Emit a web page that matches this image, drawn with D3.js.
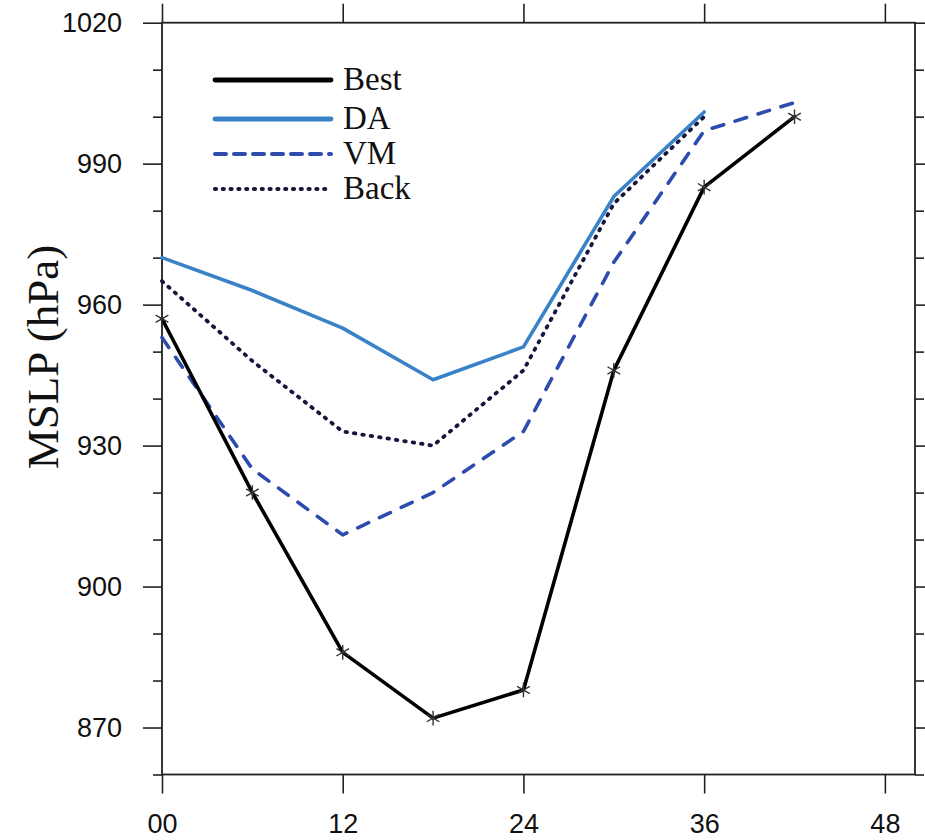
<!DOCTYPE html>
<html>
<head>
<meta charset="utf-8">
<script src="https://cdn.jsdelivr.net/npm/d3@7"></script>
<style>
  html, body { margin: 0; padding: 0; background: #fff; }
  svg { display: block; }
</style>
</head>
<body>
<svg id="chart" width="925" height="840"></svg>
<script>
// Forecast hour (x) and minimum sea-level pressure in hPa (y)
const hours = [0, 6, 12, 18, 24, 30, 36, 42];
const bestMSLP = [957, 920, 886, 872, 878, 946, 985, 1000];
const daMSLP   = [970, 963, 955, 944, 951, 983, 1001];
const vmMSLP   = [953, 925, 911, 920, 933, 969, 997, 1003];
const backMSLP = [965, 948, 933, 930, 946, 981.5, 1000];

const xMajorTicks = [0, 12, 24, 36, 48];
const yMajorTicks = [870, 900, 930, 960, 990, 1020];
const yMinorTicks = [860, 880, 890, 910, 920, 940, 950, 970, 980, 1000, 1010];

const seriesNames = ["Best", "DA", "VM", "Back"];

const svg = d3.select("#chart");
const plotLeft = 162, plotRight = 915, plotTop = 22.7, plotBottom = 774.5;

const x = d3.scaleLinear().domain([0, 50]).range([plotLeft, plotRight]);
const y = d3.scaleLinear().domain([860, 1020]).range([plotBottom, plotTop]);

const axisColor = "#222";
const tickFont = "'Liberation Sans', Arial, Helvetica, sans-serif";
const serif = "'Liberation Serif', 'Times New Roman', Times, serif";

function styleAxis(g) {
  g.select(".domain").remove();
  g.selectAll(".tick line").attr("stroke", axisColor).attr("stroke-width", 1.6);
  g.selectAll(".tick text").attr("fill", "#111").style("font-family", tickFont).style("font-size", "27px");
}

// Major and minor ticks, all pointing outward
svg.append("g").attr("transform", `translate(${plotLeft},0)`)
  .call(d3.axisLeft(y).tickValues(yMajorTicks).tickSize(19).tickPadding(21).tickFormat(d3.format("d")))
  .call(styleAxis);
svg.append("g").attr("transform", `translate(${plotLeft},0)`)
  .call(d3.axisLeft(y).tickValues(yMinorTicks).tickSize(9).tickFormat(""))
  .call(styleAxis);
svg.append("g").attr("transform", `translate(${plotRight},0)`)
  .call(d3.axisRight(y).tickValues(yMajorTicks).tickSize(19).tickFormat(""))
  .call(styleAxis);
svg.append("g").attr("transform", `translate(${plotRight},0)`)
  .call(d3.axisRight(y).tickValues(yMinorTicks).tickSize(9).tickFormat(""))
  .call(styleAxis);
svg.append("g").attr("transform", `translate(0,${plotBottom})`)
  .call(d3.axisBottom(x).tickValues(xMajorTicks).tickSize(19).tickPadding(20).tickFormat(d3.format("02d")))
  .call(styleAxis);
svg.append("g").attr("transform", `translate(0,${plotTop})`)
  .call(d3.axisTop(x).tickValues(xMajorTicks).tickSize(19).tickFormat(""))
  .call(styleAxis);

// Plot frame
svg.append("rect")
  .attr("x", plotLeft).attr("y", plotTop)
  .attr("width", plotRight - plotLeft).attr("height", plotBottom - plotTop)
  .attr("fill", "none").attr("stroke", axisColor).attr("stroke-width", 1.8);

// Y axis title
svg.append("text")
  .attr("transform", `translate(58,357) rotate(-90)`)
  .attr("text-anchor", "middle")
  .style("font-family", serif)
  .style("font-size", "45px")
  .attr("fill", "#111")
  .text("MSLP (hPa)");

const styles = {
  Best: { color: "#000000", width: 3.6, dash: null },
  DA:   { color: "#3a82c8", width: 3.6, dash: null },
  VM:   { color: "#2d4cae", width: 3.6, dash: "12,12" },
  Back: { color: "#15153d", width: 3.8, dash: "1.5,7" }
};
const legendStyles = {
  Best: { width: 4.8, dash: null },
  DA:   { width: 4.8, dash: null },
  VM:   { width: 4.0, dash: "11,8" },
  Back: { width: 4.2, dash: "1,6.8" }
};

const seriesData = {
  Best: bestMSLP, DA: daMSLP, VM: vmMSLP, Back: backMSLP
};

const line = d3.line().x((d, i) => x(hours[i])).y(d => y(d));

// Draw back-to-front so Best is on top
["Back", "VM", "DA", "Best"].forEach(name => {
  const s = styles[name];
  svg.append("path")
    .datum(seriesData[name])
    .attr("d", line)
    .attr("fill", "none")
    .attr("stroke", s.color)
    .attr("stroke-width", s.width)
    .attr("stroke-linejoin", "round")
    .attr("stroke-linecap", "round")
    .attr("stroke-dasharray", s.dash);
});

// Asterisk markers on the best track
const asterisk = d3.symbol().type(d3.symbolAsterisk).size(150);
svg.append("g").selectAll("path")
  .data(bestMSLP)
  .join("path")
  .attr("transform", (d, i) => `translate(${x(hours[i])},${y(d)})`)
  .attr("d", asterisk)
  .attr("fill", "none")
  .attr("stroke", "#333")
  .attr("stroke-width", 1.4);

// Legend
const legendY = [80, 119, 154, 189];
const legend = svg.append("g");
seriesNames.forEach((name, i) => {
  const s = styles[name], ls = legendStyles[name];
  legend.append("line")
    .attr("x1", 215).attr("x2", 331)
    .attr("y1", legendY[i]).attr("y2", legendY[i])
    .attr("stroke", s.color)
    .attr("stroke-width", ls.width)
    .attr("stroke-linecap", "round")
    .attr("stroke-dasharray", ls.dash);
  legend.append("text")
    .attr("x", 343).attr("y", legendY[i] + 10)
    .style("font-family", serif)
    .style("font-size", "33px")
    .attr("fill", "#111")
    .text(name);
});
</script>
</body>
</html>
